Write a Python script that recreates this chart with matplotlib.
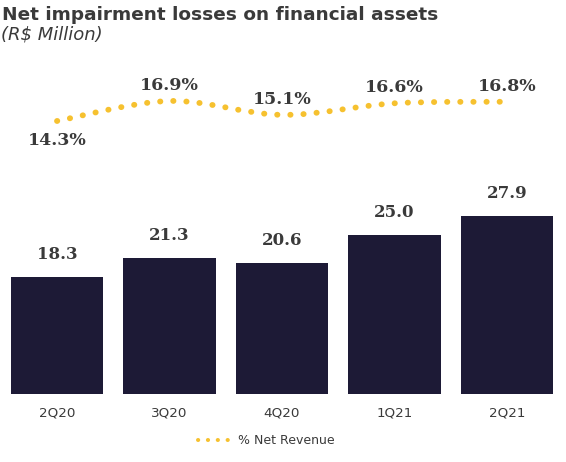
import numpy as np
import matplotlib
matplotlib.use('Agg')
import matplotlib.pyplot as plt
from matplotlib.path import Path
from matplotlib.patches import PathPatch
from matplotlib.lines import Line2D

quarters = ['2Q20', '3Q20', '4Q20', '1Q21', '2Q21']
losses = [18.3, 21.3, 20.6, 25.0, 27.9]
pct_revenue = [14.3, 16.9, 15.1, 16.6, 16.8]
pct_labels = ['14.3%', '16.9%', '15.1%', '16.6%', '16.8%']

bar_color = '#1d1a36'
dot_color = '#f6c12f'
text_color = '#3a3a3a'

W, H = 566, 462
fig = plt.figure(figsize=(W / 100, H / 100), dpi=100)

# axes in pixel layout: bottom at y=394, top at y=60
bottom_px, top_px = 394, 60
ax = fig.add_axes([0, (H - bottom_px) / H, 1, (bottom_px - top_px) / H])
x = np.arange(len(quarters))
ax.bar(x, losses, width=0.82, color=bar_color)
ax.set_xlim(-57 / 112.5, 4 + 59 / 112.5)
ax.set_ylim(0, (bottom_px - top_px) / 6.38)
for xi, v in zip(x, losses):
    ax.annotate(f'{v:.1f}', (xi, v), xytext=(0, 10), textcoords='offset points',
                ha='center', va='bottom', fontsize=12, fontweight='bold',
                family='DejaVu Serif', color=text_color)
ax.set_xticks(x)
ax.set_xticklabels(quarters, fontsize=9.7, color=text_color)
ax.tick_params(axis='x', length=0, pad=9)
ax.set_yticks([])
for s in ax.spines.values():
    s.set_visible(False)

# percent line on twin axis
ax2 = ax.twinx()
ax2.set_ylim(14.3 - 273 / 7.7, 14.3 - 273 / 7.7 + (bottom_px - top_px) / 7.7)
ax2.set_yticks([])
for s in ax2.spines.values():
    s.set_visible(False)

# smooth curve through the points (Catmull-Rom as cubic Bezier)
pts = np.column_stack([x, pct_revenue]).astype(float)
verts = [pts[0]]
codes = [Path.MOVETO]
n = len(pts)
for i in range(n - 1):
    p0 = pts[i - 1] if i > 0 else pts[i]
    p1 = pts[i]
    p2 = pts[i + 1]
    p3 = pts[i + 2] if i + 2 < n else pts[i + 1]
    c1 = p1 + (p2 - p0) / 6
    c2 = p2 - (p3 - p1) / 6
    verts += [c1, c2, p2]
    codes += [Path.CURVE4] * 3
patch = PathPatch(Path(verts, codes), fill=False, edgecolor=dot_color, lw=4.2,
                  linestyle=(0, (0.05, 2.2)), capstyle='round')
ax2.add_patch(patch)

for i, (xi, v, lab) in enumerate(zip(x, pct_revenue, pct_labels)):
    if i == 0:
        off, va = -8, 'top'
    else:
        off, va = 5, 'bottom'
    ax2.annotate(lab, (xi, v), xytext=(0, off), textcoords='offset points',
                 ha='center', va=va, fontsize=12.5, fontweight='bold',
                 family='DejaVu Serif', color=text_color)

# legend
handle = Line2D([], [], color=dot_color, lw=2.9, linestyle=(0, (0.05, 2.4)),
                dash_capstyle='round')
fig.legend([handle], ['% Net Revenue'], loc='center', bbox_to_anchor=(266 / W, 1 - 441 / H),
           frameon=False, fontsize=9, handlelength=2.9, handletextpad=0.3,
           labelcolor=text_color)

fig.text(2 / W, 1 - 15 / H, 'Net impairment losses on financial assets', fontsize=13.3,
         fontweight='bold', color=text_color, va='center', ha='left')
fig.text(1 / W, 1 - 35 / H, '(R$ Million)', fontsize=13, style='italic',
         color=text_color, va='center', ha='left')

fig.savefig('out.png', dpi=100)
